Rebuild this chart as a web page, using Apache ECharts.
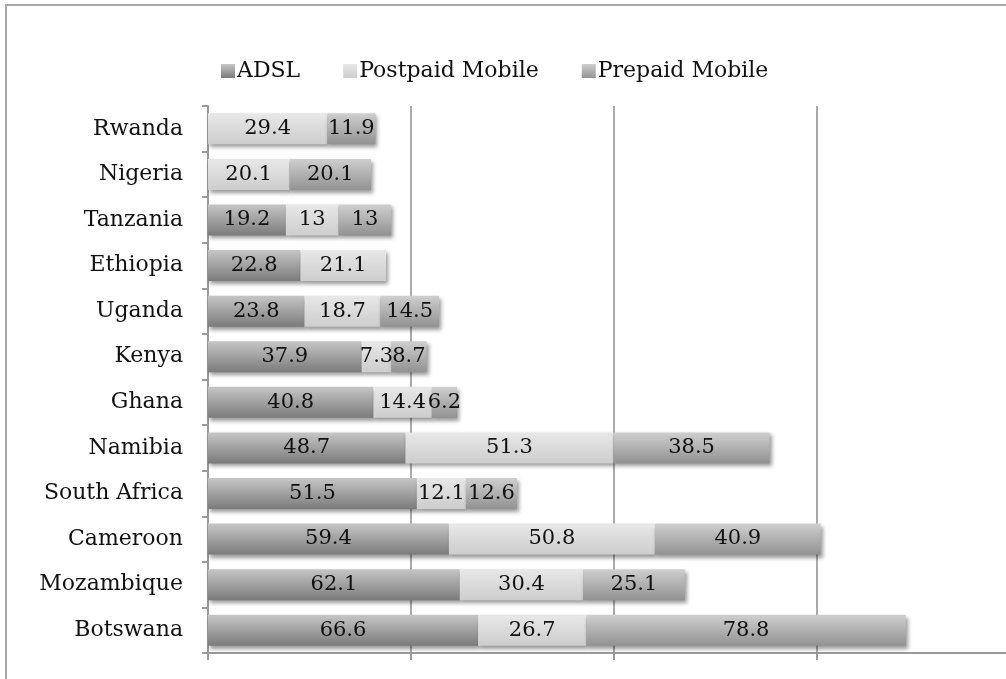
<!DOCTYPE html>
<html>
<head>
<meta charset="utf-8">
<style>
  html, body { margin: 0; padding: 0; background: #ffffff; }
  #chart { width: 1006px; height: 679px; }
</style>
<script src="https://cdn.jsdelivr.net/npm/echarts@6/dist/echarts.min.js"></script>
</head>
<body>
<div id="chart"></div>
<script>
// Countries, listed top to bottom
const countries = ['Rwanda', 'Nigeria', 'Tanzania', 'Ethiopia', 'Uganda', 'Kenya',
  'Ghana', 'Namibia', 'South Africa', 'Cameroon', 'Mozambique', 'Botswana'];

// Values per connection type (0 = not reported)
const adsl =     [0,    0,    19.2, 22.8, 23.8, 37.9, 40.8, 48.7, 51.5, 59.4, 62.1, 66.6];
const postpaid = [29.4, 20.1, 13,   21.1, 18.7, 7.3,  14.4, 51.3, 12.1, 50.8, 30.4, 26.7];
const prepaid =  [11.9, 20.1, 13,   0,    14.5, 8.7,  6.2,  38.5, 12.6, 40.9, 25.1, 78.8];

const seriesNames = ['ADSL', 'Postpaid Mobile', 'Prepaid Mobile'];

const FONT = 'DejaVu Serif';

function vGrad(top, bottom) {
  return new echarts.graphic.LinearGradient(0, 0, 0, 1, [
    { offset: 0, color: top },
    { offset: 1, color: bottom }
  ]);
}

const fills = [
  vGrad('#c6c6c6', '#7b7b7b'),
  vGrad('#e8e8e8', '#cdcdcd'),
  vGrad('#cfcfcf', '#929292')
];

function makeSeries(name, values, fill) {
  return {
    name: name,
    type: 'bar',
    stack: 'total',
    barWidth: 31,
    data: values,
    itemStyle: {
      color: fill,
      shadowColor: 'rgba(0,0,0,0.4)',
      shadowBlur: 4,
      shadowOffsetX: 2,
      shadowOffsetY: 3
    },
    label: {
      show: true,
      position: 'inside',
      color: '#111',
      fontFamily: FONT,
      fontSize: 21,
      formatter: p => (p.value ? String(p.value) : '')
    },
    emphasis: { disabled: true }
  };
}

const chart = echarts.init(document.getElementById('chart'), null, { renderer: 'canvas' });

chart.setOption({
  animation: false,
  backgroundColor: '#ffffff',
  graphic: [{
    type: 'rect',
    silent: true,
    shape: { x: 6, y: 5, width: 1200, height: 900 },
    style: { fill: 'none', stroke: '#a8a8a8', lineWidth: 2 }
  }],
  legend: {
    data: seriesNames,
    left: 216,
    top: 55,
    icon: 'rect',
    itemWidth: 14,
    itemHeight: 14,
    itemGap: 43,
    itemStyle: { shadowBlur: 0, shadowOffsetX: 0, shadowOffsetY: 0 },
    textStyle: { fontFamily: FONT, fontSize: 22, color: '#111', padding: [0, 0, 0, -3] }
  },
  grid: {
    left: 208,
    top: 106,
    height: 547,
    width: 811,
    containLabel: false,
    outerBoundsMode: 'none'
  },
  xAxis: {
    type: 'value',
    min: 0,
    max: 200,
    interval: 50,
    axisLabel: { show: false },
    axisLine: { show: true, lineStyle: { color: '#9a9a9a', width: 2 } },
    axisTick: { show: true, length: 7, lineStyle: { color: '#9a9a9a', width: 2 } },
    splitLine: { show: true, lineStyle: { color: '#8e8e8e', width: 1.5 } }
  },
  yAxis: {
    type: 'category',
    inverse: true,
    data: countries,
    axisLine: { show: true, lineStyle: { color: '#9a9a9a', width: 2 } },
    axisTick: { show: true, length: 6, lineStyle: { color: '#9a9a9a', width: 2 } },
    axisLabel: { margin: 25, fontFamily: FONT, fontSize: 22, color: '#111' }
  },
  series: [
    makeSeries(seriesNames[0], adsl, fills[0]),
    makeSeries(seriesNames[1], postpaid, fills[1]),
    makeSeries(seriesNames[2], prepaid, fills[2])
  ]
});
</script>
</body>
</html>
